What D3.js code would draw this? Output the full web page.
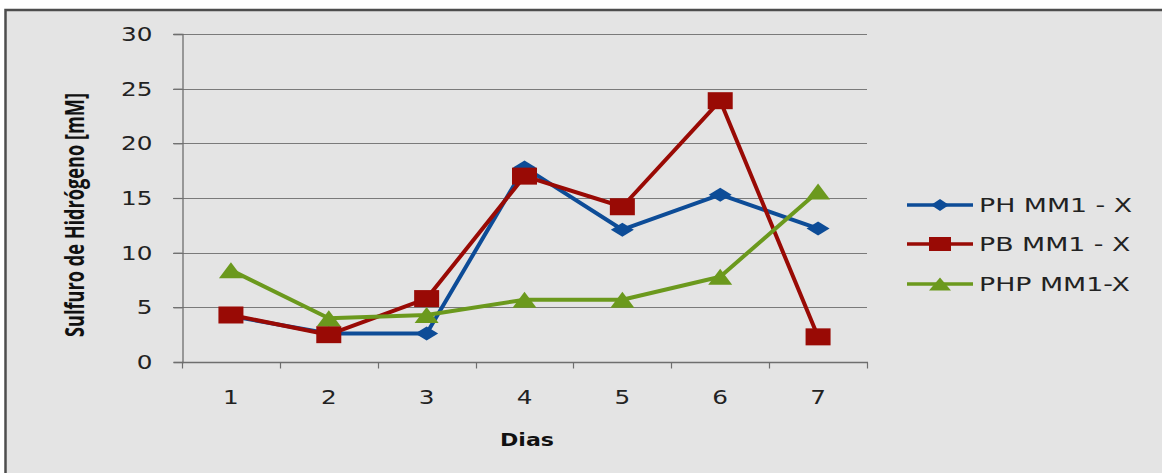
<!DOCTYPE html>
<html>
<head>
<meta charset="utf-8">
<script src="https://cdn.jsdelivr.net/npm/d3@7/dist/d3.min.js"></script>
<style>
  html, body { margin: 0; padding: 0; background: #ffffff; }
  svg { display: block; }
</style>
</head>
<body>
<script>
// Sulfuro de hidrógeno por día, tres tratamientos
const days = ["1", "2", "3", "4", "5", "6", "7"];
const phValues  = [4.2, 2.6, 2.6, 17.8, 12.1, 15.3, 12.2];
const pbValues  = [4.3, 2.5, 5.8, 17.0, 14.2, 23.9, 2.3];
const phpValues = [8.4, 4.0, 4.3, 5.7, 5.7, 7.8, 15.6];
const seriesNames = ["PH MM1 - X", "PB MM1 - X", "PHP MM1-X"];
const yTicks = [0, 5, 10, 15, 20, 25, 30];

const W = 1162, H = 473;
const SX = 1.3;                 // horizontal widening of the type
const FONT = "'DejaVu Sans', sans-serif";

const svg = d3.select("body").append("svg")
  .attr("width", W).attr("height", H);

// chart frame
svg.append("rect")
  .attr("x", 5.5).attr("y", 10)
  .attr("width", W + 20).attr("height", H + 20)
  .attr("fill", "#e4e4e4")
  .attr("stroke", "#4d4d4d").attr("stroke-width", 2.5);

const x = d3.scaleBand().domain(days).range([182, 867]);
const y = d3.scaleLinear().domain([0, 30]).range([362, 34]);

// horizontal gridlines
svg.append("g")
  .selectAll("line")
  .data(yTicks.filter(d => d > 0))
  .join("line")
  .attr("x1", 173).attr("x2", 867)
  .attr("y1", d => Math.round(y(d)) + 0.5)
  .attr("y2", d => Math.round(y(d)) + 0.5)
  .attr("stroke", "#7a7a7a").attr("stroke-width", 1.2);

// y axis
const yAxis = svg.append("g")
  .attr("transform", "translate(182.5,0)")
  .call(d3.axisLeft(y).tickValues(yTicks).tickSize(9).tickPadding(0));
yAxis.select(".domain").attr("stroke", "#6e6e6e").attr("stroke-width", 1.3);
yAxis.selectAll(".tick line").attr("stroke", "#6e6e6e").attr("stroke-width", 1.2);
yAxis.selectAll(".tick text")
  .attr("x", -30 / SX)
  .attr("dy", "0.35em")
  .attr("transform", `scale(${SX},1)`)
  .attr("fill", "#222")
  .style("font-family", FONT).style("font-size", "19px");

// x axis with ticks at category boundaries
const xAxisG = svg.append("g").attr("transform", "translate(0,362.5)");
xAxisG.append("line")
  .attr("x1", 182).attr("x2", 868)
  .attr("stroke", "#6e6e6e").attr("stroke-width", 1.3);
const bounds = days.map(d => x(d)).concat([x.range()[1]]);
xAxisG.selectAll("line.tk")
  .data(bounds)
  .join("line")
  .attr("class", "tk")
  .attr("x1", d => Math.round(d) + 0.5).attr("x2", d => Math.round(d) + 0.5)
  .attr("y1", 0).attr("y2", 6)
  .attr("stroke", "#6e6e6e").attr("stroke-width", 1.2);
xAxisG.selectAll("g.lbl")
  .data(days)
  .join("g")
  .attr("class", "lbl")
  .attr("transform", d => `translate(${x(d) + x.bandwidth() / 2},41) scale(${SX},1)`)
  .append("text")
  .attr("text-anchor", "middle")
  .attr("fill", "#222")
  .style("font-family", FONT).style("font-size", "19px")
  .text(d => d);

// axis titles
svg.append("g")
  .attr("transform", `translate(527,446) scale(${SX},1)`)
  .append("text")
  .attr("text-anchor", "middle")
  .attr("fill", "#111")
  .style("font-family", FONT).style("font-size", "17px").style("font-weight", "bold")
  .text("Dias");

svg.append("g")
  .attr("transform", `translate(84,215) scale(${SX},1) rotate(-90)`)
  .append("text")
  .attr("text-anchor", "middle")
  .attr("textLength", 244)
  .attr("lengthAdjust", "spacingAndGlyphs")
  .attr("fill", "#111")
  .style("font-family", "'Open Sans', sans-serif")
  .style("font-size", "21px").style("font-weight", "bold")
  .text("Sulfuro de Hidrógeno [mM]");

// marker shapes (w, h = full width and height)
const shapes = {
  diamond: (w, h) => `M0,${-h / 2}L${w / 2},0L0,${h / 2}L${-w / 2},0Z`,
  square: (w, h) => `M${-w / 2},${-h / 2}H${w / 2}V${h / 2}H${-w / 2}Z`,
  triangle: (w, h) => `M0,${-h / 2}L${w / 2},${h / 2}L${-w / 2},${h / 2}Z`
};

const series = [
  { name: seriesNames[0], values: phValues,  color: "#0d4c97", shape: "diamond",  mw: 23, mh: 14, lw: 18, lh: 12 },
  { name: seriesNames[1], values: pbValues,  color: "#990a05", shape: "square",   mw: 25, mh: 17, lw: 22, lh: 14 },
  { name: seriesNames[2], values: phpValues, color: "#6b991d", shape: "triangle", mw: 24, mh: 16, lw: 22, lh: 13 }
];

const line = d3.line()
  .x((d, i) => x(days[i]) + x.bandwidth() / 2)
  .y(d => y(d));

series.forEach(s => {
  const g = svg.append("g");
  g.append("path")
    .attr("d", line(s.values))
    .attr("fill", "none")
    .attr("stroke", s.color)
    .attr("stroke-width", 4)
    .attr("stroke-linejoin", "round");
  g.selectAll("path.m")
    .data(s.values)
    .join("path")
    .attr("class", "m")
    .attr("transform", (d, i) => `translate(${x(days[i]) + x.bandwidth() / 2},${y(d)})`)
    .attr("d", shapes[s.shape](s.mw, s.mh))
    .attr("fill", s.color);
});

// legend
const legend = svg.append("g");
series.forEach((s, i) => {
  const ly = [205, 244, 284][i];
  const g = legend.append("g").attr("transform", `translate(0,${ly})`);
  g.append("line")
    .attr("x1", 907).attr("x2", 973)
    .attr("stroke", s.color).attr("stroke-width", 3.5);
  g.append("path")
    .attr("transform", "translate(940,0)")
    .attr("d", shapes[s.shape](s.lw, s.lh))
    .attr("fill", s.color);
  g.append("g")
    .attr("transform", `translate(979,0) scale(1.34,1)`)
    .append("text")
    .attr("dy", "0.36em")
    .attr("fill", "#222")
    .style("font-family", FONT).style("font-size", "20px")
    .text(s.name);
});
</script>
</body>
</html>
